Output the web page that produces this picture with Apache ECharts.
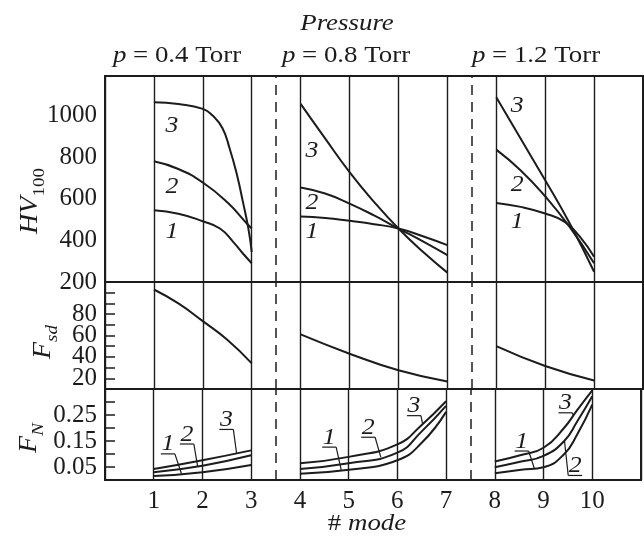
<!DOCTYPE html>
<html>
<head>
<meta charset="utf-8">
<script src="https://cdn.jsdelivr.net/npm/echarts@6/dist/echarts.min.js"></script>
<style>
  html, body { margin: 0; background: #fff; }
  #chart { width: 644px; height: 538px; }
</style>
</head>
<body>
<div id="chart"></div>
<script>
// mode numbers on the x axis and the dashed pressure separators
const modeTicks = [1, 2, 3, 4, 5, 6, 7, 8, 9, 10];
const separators = [3.5, 7.5];

// y tick labels
const hvTicks = [200, 400, 600, 800, 1000];
const fsdTicks = [20, 40, 60, 80];
const fnTicks = [0.05, 0.15, 0.25];

// HV100 hardness, curves 1..3, for p = 0.4 / 0.8 / 1.2 Torr
const hv1_04 = [[1, 545], [1.5, 528], [2, 492], [2.35, 457], [2.62, 393], [2.82, 337], [3, 290]];
const hv2_04 = [[1, 780], [1.5, 743], [2, 678], [2.5, 583], [2.9, 481], [3, 457]];
const hv3_04 = [[1, 1064], [1.5, 1055], [2, 1032], [2.2, 1000], [2.4, 940], [2.55, 840], [2.7, 713], [2.82, 585], [2.93, 459], [3, 345]];
const hv1_08 = [[4, 515], [4.5, 508], [5, 494], [5.5, 478], [6, 457], [6.5, 420], [7, 377]];
const hv2_08 = [[4, 654], [4.5, 625], [5, 577], [5.5, 520], [6, 457], [6.5, 395], [7, 329]];
const hv3_08 = [[4, 1056], [4.5, 890], [5, 728], [5.5, 585], [6, 457], [6.5, 345], [7, 245]];
const hv1_12 = [[8, 580], [8.5, 561], [9, 529], [9.4, 489], [9.7, 420], [10, 321]];
const hv2_12 = [[8, 836], [8.5, 736], [9, 612], [9.5, 465], [10, 290]];
const hv3_12 = [[8, 1088], [9, 689], [9.5, 482], [10, 249]];

// F_sd
const fsd_04 = [[1, 103], [1.5, 90], [2, 73.4], [2.5, 56], [3, 34]];
const fsd_08 = [[4, 61], [5, 43], [6, 27.5], [7, 17]];
const fsd_12 = [[8, 50], [9, 31.5], [10, 18]];

// F_N, curves 1..3
const fn1_04 = [[1, 0.015], [2, 0.030], [3, 0.058]];
const fn2_04 = [[1, 0.030], [2, 0.055], [3, 0.095]];
const fn3_04 = [[1, 0.042], [2, 0.076], [3, 0.114]];
const fn1_08 = [[4, 0.024], [5, 0.039], [6, 0.076], [6.5, 0.143], [7, 0.262]];
const fn2_08 = [[4, 0.042], [5, 0.064], [6, 0.105], [6.5, 0.187], [7, 0.285]];
const fn3_08 = [[4, 0.064], [5, 0.089], [6, 0.137], [6.5, 0.212], [7, 0.303]];
const fn1_12 = [[8, 0.026], [8.54, 0.039], [9, 0.049], [9.42, 0.099], [9.69, 0.175], [10, 0.29]];
const fn2_12 = [[8, 0.049], [8.54, 0.071], [9, 0.093], [9.42, 0.149], [9.69, 0.225], [10, 0.322]];
const fn3_12 = [[8, 0.071], [8.54, 0.096], [9, 0.124], [9.42, 0.200], [9.69, 0.269], [10, 0.345]];

// curve numbers: [mode, value, text]
const hvNumbers = [
  [1.37, 952, '3'], [1.37, 655, '2'], [1.37, 440, '1'],
  [4.23, 832, '3'], [4.23, 578, '2'], [4.23, 440, '1'],
  [8.43, 1048, '3'], [8.43, 665, '2'], [8.43, 487, '1']
];
// F_N numbers with leaders: [label mode, label value, tip mode, tip value, text]
const fnNumbers = [
  [1.29, 0.137, 1.57, 0.024, '1'], [1.68, 0.175, 1.90, 0.053, '2'], [2.49, 0.231, 2.70, 0.104, '3'],
  [4.60, 0.163, 4.85, 0.037, '1'], [5.40, 0.201, 5.66, 0.088, '2'], [6.34, 0.284, 6.52, 0.214, '3'],
  [8.55, 0.148, 8.81, 0.045, '1'], [9.65, 0.054, 9.43, 0.150, '2'], [9.45, 0.295, 9.61, 0.248, '3']
];

const ink = '#1c1c1c';
const serif = "'Liberation Serif', 'Times New Roman', serif";
const stretch = 1.12;

const chart = echarts.init(document.getElementById('chart'));

const curve = (data, g) => ({
  type: 'line', xAxisIndex: g, yAxisIndex: g, data,
  smooth: 0.5, symbol: 'none', silent: true,
  lineStyle: { color: ink, width: 2 }
});

const dashed = (g) => ({
  type: 'line', xAxisIndex: g, yAxisIndex: g, data: [], silent: true,
  markLine: {
    symbol: ['none', 'none'], silent: true, animation: false,
    label: { show: false },
    lineStyle: { color: ink, width: 1.5, type: [10, 7] },
    data: separators.map(x => ({ xAxis: x }))
  }
});

const numberText = (text, x, y) => ({
  type: 'text', x, y, scaleX: stretch,
  style: {
    text, fill: ink, fontSize: 23, fontStyle: 'italic', fontFamily: serif,
    align: 'center', verticalAlign: 'middle'
  }
});

const hvLabels = {
  type: 'custom', xAxisIndex: 0, yAxisIndex: 0, silent: true,
  encode: { x: 0, y: 1 },
  data: hvNumbers.map(d => [d[0], d[1]]),
  renderItem: (params, api) => {
    const p = api.coord([api.value(0), api.value(1)]);
    return numberText(hvNumbers[params.dataIndex][2], p[0], p[1]);
  }
};

const fnLabels = {
  type: 'custom', xAxisIndex: 2, yAxisIndex: 2, silent: true,
  encode: { x: 0, y: 1 },
  data: fnNumbers.map(d => [d[0], d[1], d[2], d[3]]),
  renderItem: (params, api) => {
    const p = api.coord([api.value(0), api.value(1)]);
    const t = api.coord([api.value(2), api.value(3)]);
    const uy = p[1] + 9.5;
    const sx = t[0] >= p[0] ? p[0] + 7 : p[0] - 7;
    const stroke = { stroke: ink, lineWidth: 1.2 };
    return {
      type: 'group',
      children: [
        numberText(fnNumbers[params.dataIndex][4], p[0], p[1]),
        { type: 'line', shape: { x1: p[0] - 7, y1: uy, x2: p[0] + 7, y2: uy }, style: stroke },
        { type: 'line', shape: { x1: sx, y1: uy, x2: t[0], y2: t[1] }, style: stroke }
      ]
    };
  }
};

const gridBox = (top, height) => ({
  left: 105, top, width: 538, height,
  show: true, borderColor: ink, borderWidth: 2, backgroundColor: 'transparent'
});

const xAxisFor = (g, showLabels) => ({
  type: 'value', gridIndex: g, min: 0, max: 11, interval: 1,
  axisLine: { show: false }, axisTick: { show: false },
  axisLabel: {
    show: showLabels, margin: 9, color: ink, fontSize: 25, fontFamily: serif,
    formatter: v => (modeTicks.includes(v) ? String(v) : '')
  },
  splitLine: { show: true, lineStyle: { color: ink, width: 1.4 } }
});

const labelStyle = { color: ink, fontSize: 25, fontFamily: serif, margin: 8 };

const title = (text, x, y, rich) => ({
  type: 'text', x, y, scaleX: stretch,
  style: {
    text, fill: ink, fontSize: 24, fontFamily: serif, align: 'center', verticalAlign: 'middle',
    rich: rich || {}
  }
});

const italicRich = { i: { fontStyle: 'italic', fontSize: 24, fontFamily: serif, fill: ink } };

const axisName = (text, x, y, sub) => ({
  type: 'text', x, y, rotation: Math.PI / 2, scaleX: stretch,
  style: {
    text, align: 'center', verticalAlign: 'middle', fill: ink,
    rich: {
      m: { fontSize: 25, fontStyle: 'italic', fontFamily: serif, lineHeight: 36, verticalAlign: 'middle', fill: ink },
      s: { fontSize: 17, fontStyle: sub, fontFamily: serif, lineHeight: 16, verticalAlign: 'bottom', fill: ink }
    }
  }
});

const option = {
  animation: false,
  backgroundColor: '#fff',
  grid: [gridBox(76, 206), gridBox(282, 107), gridBox(389, 91)],
  xAxis: [xAxisFor(0, false), xAxisFor(1, false), xAxisFor(2, true)],
  yAxis: [
    {
      type: 'value', gridIndex: 0, min: 200, max: 1190, interval: 200,
      axisLine: { show: false }, axisTick: { show: false }, splitLine: { show: false },
      axisLabel: { ...labelStyle, formatter: v => (hvTicks.includes(v) ? String(v) : '') }
    },
    {
      type: 'value', gridIndex: 1, min: 10, max: 110, interval: 10,
      axisLine: { show: false }, splitLine: { show: false },
      axisTick: { show: true, inside: true, length: 10, lineStyle: { color: ink, width: 1.5 } },
      axisLabel: { ...labelStyle, formatter: v => (fsdTicks.includes(v) ? String(v) : '') }
    },
    {
      type: 'value', gridIndex: 2, min: 0, max: 0.35, interval: 0.05,
      axisLine: { show: false }, splitLine: { show: false },
      axisTick: { show: true, inside: true, length: 10, lineStyle: { color: ink, width: 1.5 } },
      axisLabel: {
        ...labelStyle,
        formatter: v => {
          const hit = fnTicks.find(t => Math.abs(t - v) < 1e-6);
          return hit ? hit.toFixed(2) : '';
        }
      }
    }
  ],
  graphic: [
    title('{i|Pressure}', 347, 24, italicRich),
    title('{i|p} = 0.4 Torr', 177, 56, italicRich),
    title('{i|p} = 0.8 Torr', 346, 56, italicRich),
    title('{i|p} = 1.2 Torr', 536, 56, italicRich),
    axisName('{m|HV}{s|100}', 30, 201, 'normal'),
    axisName('{m|F}{s|sd}', 43, 342, 'italic'),
    axisName('{m|F}{s|N}', 29, 438, 'italic'),
    title('# {i|mode}', 367, 524, italicRich)
  ],
  series: [
    dashed(0), dashed(1), dashed(2),
    curve(hv1_04, 0), curve(hv2_04, 0), curve(hv3_04, 0),
    curve(hv1_08, 0), curve(hv2_08, 0), curve(hv3_08, 0),
    curve(hv1_12, 0), curve(hv2_12, 0), curve(hv3_12, 0),
    curve(fsd_04, 1), curve(fsd_08, 1), curve(fsd_12, 1),
    curve(fn1_04, 2), curve(fn2_04, 2), curve(fn3_04, 2),
    curve(fn1_08, 2), curve(fn2_08, 2), curve(fn3_08, 2),
    curve(fn1_12, 2), curve(fn2_12, 2), curve(fn3_12, 2),
    hvLabels, fnLabels
  ]
};

chart.setOption(option);
</script>
</body>
</html>
